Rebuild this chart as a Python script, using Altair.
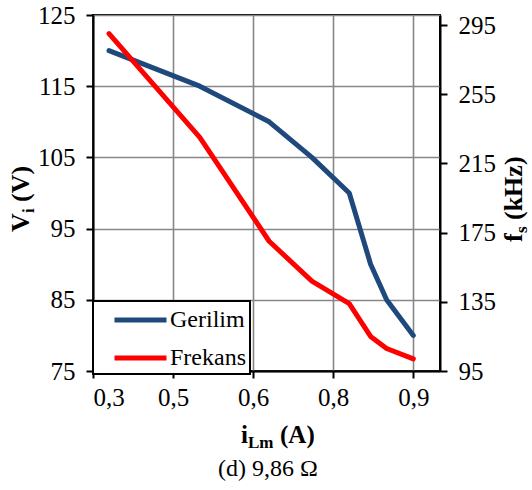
import altair as alt
import pandas as pd

# ---- data ----
i_lm = [0.33, 0.50, 0.63, 0.71, 0.78, 0.82, 0.85, 0.90]          # A
gerilim = [120, 115, 110, 105, 100, 90, 85, 80]                    # V
frekans = [290, 230, 170, 147, 134, 115, 108, 102]                 # kHz

series_names = ["Gerilim", "Frekans"]
series_colors = ["#1F497D", "#FF0000"]

x_ticks = [0.3, 0.45, 0.6, 0.75, 0.9]
v_ticks = [75, 85, 95, 105, 115, 125]
f_ticks = [95, 135, 175, 215, 255, 295]

FONT = "'Liberation Serif', 'Times New Roman', Times, 'DejaVu Serif', serif"
OX, OY = 93, 15
W, H = 347, 356

df = pd.DataFrame({"x": i_lm, "V": gerilim, "f": frekans})

color_scale = alt.Scale(domain=series_names, range=series_colors)

x_enc = alt.X(
    "x:Q",
    scale=alt.Scale(domain=[0.3, 0.95], nice=False, zero=False),
    axis=alt.Axis(
        values=x_ticks,
        labelExpr="replace(format(datum.value, '.1f'), '.', ',')",
        title=None,
        grid=True,
        labelPadding=7,
    ),
)

common_axis = dict(
    labelFont=FONT, labelFontSize=25, labelColor="black",
    domainColor="black", domainWidth=2,
    tickColor="black", tickWidth=2, tickSize=7,
    labelPadding=11,
    gridColor="#878787", gridWidth=1.6,
)

legend = alt.Legend(title=None, labelExpr="datum.label + '   '")

line_v = (
    alt.Chart(df)
    .transform_calculate(series="'Gerilim'")
    .mark_line(strokeWidth=5, strokeCap="round", strokeJoin="round")
    .encode(
        x=x_enc,
        y=alt.Y(
            "V:Q",
            scale=alt.Scale(domain=[75, 125], nice=False, zero=False),
            axis=alt.Axis(values=v_ticks, title=None, orient="left", grid=True),
        ),
        color=alt.Color("series:N", scale=color_scale, sort=series_names, legend=legend),
    )
)

line_f = (
    alt.Chart(df)
    .transform_calculate(series="'Frekans'")
    .mark_line(strokeWidth=5, strokeCap="round", strokeJoin="round")
    .encode(
        x=x_enc,
        y=alt.Y(
            "f:Q",
            scale=alt.Scale(domain=[95, 300.8], nice=False, zero=False),
            axis=alt.Axis(values=f_ticks, title=None, orient="right", grid=False),
        ),
        color=alt.Color("series:N", scale=color_scale, sort=series_names, legend=legend),
    )
)


def txt(s, x, y, size=26, bold=True, angle=0, align="left"):
    return (
        alt.Chart(pd.DataFrame({"t": [s]}))
        .mark_text(font=FONT, fontSize=size, fontWeight="bold" if bold else "normal",
                   color="black", align=align, baseline="alphabetic", angle=angle)
        .encode(text="t:N", x=alt.value(x), y=alt.value(y))
    )


titles = [
    # left axis title  V_i (V)
    txt("V", 29 - OX, 232 - OY, angle=270),
    txt("i", 34 - OX, 213 - OY, size=17, angle=270),
    txt("(V)", 29 - OX, 202 - OY, angle=270),
    # right axis title f_s (kHz)
    txt("f", 522 - OX, 242 - OY, angle=270),
    txt("s", 527 - OX, 233 - OY, size=17, angle=270),
    txt("(kHz)", 522 - OX, 220 - OY, angle=270),
    # x axis title i_Lm (A)
    txt("i", 241 - OX, 443 - OY, size=25),
    txt("Lm", 248 - OX, 448 - OY, size=17),
    txt("(A)", 280 - OX, 443 - OY, size=25),
    # caption
    txt("(d) 9,86 Ω", 268 - OX, 476 - OY, size=24, bold=False, align="center"),
]

chart = (
    alt.layer(line_v, line_f, *titles)
    .resolve_scale(y="independent", color="shared")
    .properties(
        width=W, height=H,
        autosize=alt.AutoSizeParams(type="none"),
        padding={"left": OX, "top": OY, "right": 532 - OX - W, "bottom": 490 - OY - H},
        background="white",
    )
    .configure_view(stroke="black", strokeWidth=2)
    .configure_axis(**common_axis)
    .configure_legend(
        orient="none", legendX=0, legendY=286,
        fillColor="white", strokeColor="black", strokeWidth=2,
        padding=3.5, symbolType="M-2,0H2", symbolStrokeWidth=5, symbolSize=676,
        symbolOffset=28.5,
        labelFont=FONT, labelFontSize=24, labelColor="black", labelOffset=14,
        rowPadding=10, cornerRadius=0,
    )
)

chart.save("out.html", embed_options={"renderer": "svg", "actions": False})
